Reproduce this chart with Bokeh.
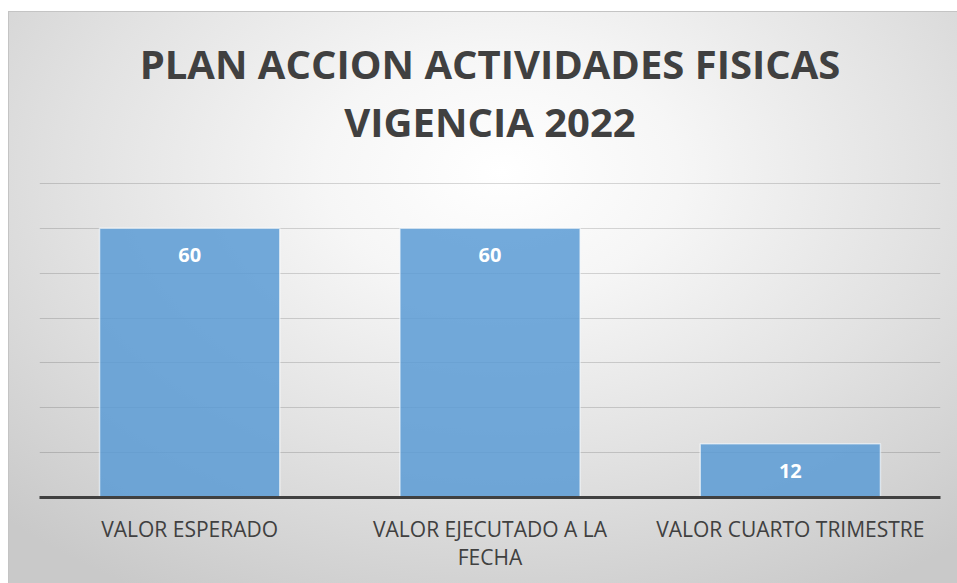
from bokeh.plotting import figure
from bokeh.models import ColumnDataSource, FactorRange, Range1d, SingleIntervalTicker, Title
from bokeh.core.properties import value
from bokeh.embed import file_html
from bokeh.resources import INLINE

categories = ["VALOR ESPERADO", "VALOR EJECUTADO A LA\nFECHA", "VALOR CUARTO TRIMESTRE"]
values = [60, 60, 12]
labels = [str(v) for v in values]
title_line1 = "PLAN ACCION ACTIVIDADES FISICAS"
title_line2 = "VIGENCIA 2022"
axis_max = 70

src = ColumnDataSource(dict(cat=categories, val=values, lab=labels))

# frame: 347 px tall, value axis_max sits 33 px below its top (gap left for titles)
frame_h, gap = 347, 33
y_end = axis_max * frame_h / (frame_h - gap)

p = figure(
    title=None,
    x_range=FactorRange(*categories, range_padding=0),
    y_range=Range1d(0, y_end),
    width=948, height=571,
    output_backend="svg", toolbar_location=None,
    min_border_left=30, min_border_right=17,
    min_border_top=138, min_border_bottom=86,
)
p.styles = {
    "background": "radial-gradient(ellipse 75% 85% at 52% 28%, #ffffff 0%, #f6f6f6 25%, #e2e2e2 60%, #c9c9c9 100%)",
    "outline": "1px solid #c4c4c4",
    "margin-top": "12px",
    "margin-left": "9px",
}
p.background_fill_alpha = 0
p.border_fill_alpha = 0
p.outline_line_color = None

for txt, so in [(title_line2, 0), (title_line1, 1)]:
    p.add_layout(Title(text=txt, align="center", vertical_align="top",
                       text_font="Open Sans", text_font_style="bold",
                       text_font_size="40px", text_color="#404040",
                       standoff=so), "above")

p.vbar(x="cat", top="val", width=0.6, source=src,
       fill_color="#5b9bd5", fill_alpha=0.85,
       line_color="white", line_alpha=0.6, line_width=1.5)

p.text(x="cat", y="val", text="lab", source=src,
       text_color="white", text_font=value("Open Sans"), text_font_style="bold",
       text_font_size="20px", text_align="center", text_baseline="middle",
       y_offset=27)

p.yaxis.visible = False
p.ygrid.ticker = SingleIntervalTicker(interval=10)
p.ygrid.bounds = (0, axis_max)
p.ygrid.grid_line_color = "black"
p.ygrid.grid_line_alpha = 0.15
p.ygrid.grid_line_width = 1
p.xgrid.grid_line_color = None

ax = p.xaxis[0]
ax.axis_line_color = "#404040"
ax.axis_line_width = 3
ax.major_tick_line_color = None
ax.minor_tick_line_color = None
ax.major_label_text_font = "Open Sans"
ax.major_label_text_font_size = "21px"
ax.major_label_text_color = "#404040"
ax.major_label_text_line_height = 1.0
ax.major_label_standoff = 11

open("out.html", "w").write(file_html(p, INLINE))
